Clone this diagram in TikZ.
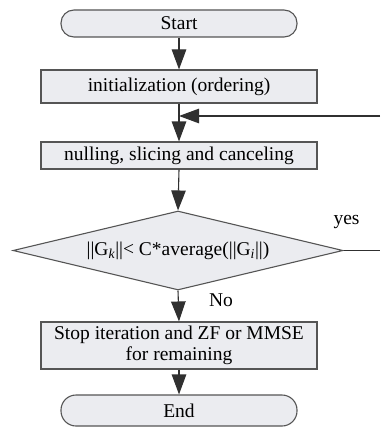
\documentclass[tikz,border=0pt]{standalone}
\usepackage{fontspec}
\setmainfont{Liberation Serif}
\usetikzlibrary{arrows.meta,shapes.geometric}
\definecolor{boxfill}{HTML}{EBECF0}
\definecolor{boxline}{HTML}{555555}
\definecolor{conn}{HTML}{303030}
\begin{document}
\begin{tikzpicture}[x=1pt,y=-1pt,
  base/.style={draw=boxline,fill=boxfill,line width=1.1pt,inner sep=0pt,align=center,
    font=\fontsize{19.5}{21}\selectfont},
  terminal/.style={base,rectangle,rounded corners=13pt,minimum width=236pt},
  procbox/.style={base,rectangle,minimum width=276pt},
  decision/.style={base,diamond,minimum width=330pt,minimum height=79pt,aspect=4.18},
  conline/.style={draw=conn,line width=1.1pt},
  arr/.style={conline,-{Triangle[length=20pt,width=14.5pt]}},
  lbl/.style={font=\fontsize{19.5}{21}\selectfont,inner sep=0pt}
]
\useasboundingbox (0,0) rectangle (380,428);
\node[terminal,minimum height=27pt] (start) at (179,23.5) {Start};
\node[procbox,minimum height=33pt] (init) at (179,86.5) {initialization (ordering)};
\node[procbox,minimum height=27pt] (null) at (179,155.5) {nulling, slicing and canceling};
\node[decision] (dec) at (178,250.5) {||G\textsubscript{\textit{k}}||< C*average(||G\textsubscript{\textit{i}}||)};
\node[procbox,minimum height=47pt] (stop) at (179,345.5) {Stop iteration and ZF or MMSE\\for remaining};
\node[terminal,minimum height=31pt,rounded corners=15pt] (end) at (179,410.5) {End};
\coordinate (fbin) at (380,116);
\coordinate (fbjoin) at (179,116);
\coordinate (yesout) at (380,250.5);
\node[lbl] (yes) at (346.5,222) {yes};
\node[lbl] (no) at (221,300) {No};
\draw[arr] (start.south) -- (init.north);
\draw[arr] (init.south) -- (null.north);
\draw[arr] (fbin) -- (fbjoin);
\draw[arr] (null.south) -- (dec.north);
\draw[arr] (dec.south) -- (stop.north);
\draw[arr] (stop.south) -- (end.north);
\draw[conline] (dec.east) -- (yesout);
\end{tikzpicture}
\end{document}
